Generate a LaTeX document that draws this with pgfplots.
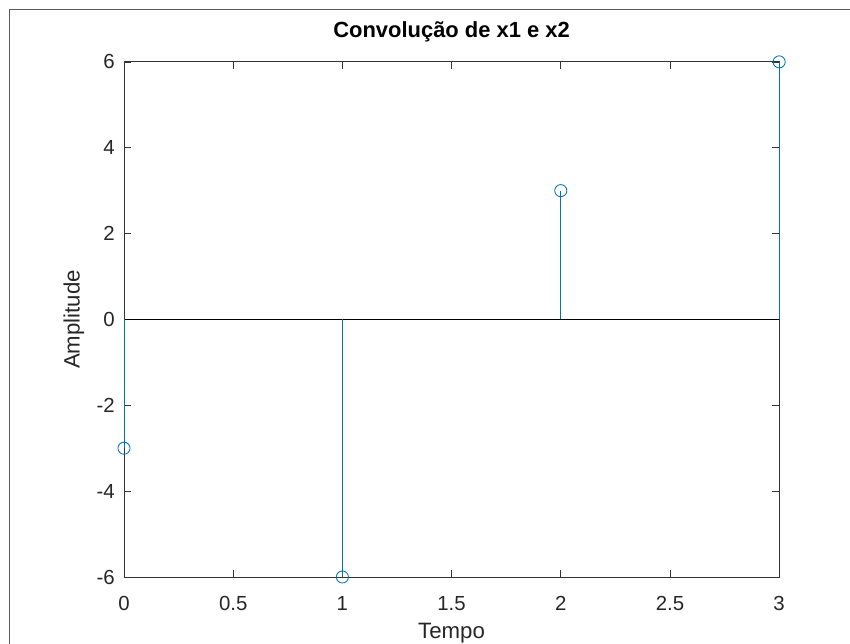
\documentclass[border=0pt]{standalone}
\usepackage{fontspec}
\setmainfont{Liberation Sans}
\usepackage{pgfplots}
\pgfplotsset{compat=1.18}

\definecolor{mlblue}{rgb}{0,0.447,0.741}

\begin{document}
\begin{tikzpicture}[x=0.025cm,y=0.025cm]
% page box: 850 x 644 px, axis box at px (124..779, 62..577)
\useasboundingbox (-124,-67) rectangle (726,577);
\draw[gray!70!black, line width=0.7pt] (-115,-67) -- (-115,567) -- (726,567);
\begin{axis}[
    at={(0,0)}, anchor=south west,
    scale only axis,
    width=16.375cm, height=12.875cm,
    xmin=0, xmax=3,
    ymin=-6, ymax=6,
    xtick={0,0.5,1,1.5,2,2.5,3},
    ytick={-6,-4,-2,0,2,4,6},
    xticklabels={0,0.5,1,1.5,2,2.5,3},
    tick align=inside,
    major tick length=5pt,
    tick style={black!80, line width=0.5pt},
    axis line style={black!80, line width=0.6pt},
    /pgf/number format/assume math mode=true,
    ticklabel style={font=\fontsize{14.5}{17}\selectfont, text=black!85},
    xticklabel style={yshift=-10pt},
    yticklabel style={xshift=-3pt},
    xlabel={Tempo},
    ylabel={Amplitude},
    label style={font=\fontsize{15.8}{19}\selectfont, text=black!85},
    xlabel style={yshift=-2.5pt},
    ylabel style={yshift=2pt},
    title={Convolução de x1 e x2},
    title style={font=\fontsize{15.6}{19}\selectfont\bfseries, yshift=4.5pt},
    clip=false,
]
% baseline
\addplot[black, line width=0.6pt, forget plot] coordinates {(0,0) (3,0)};
% stems
\addplot[ycomb, mlblue, line width=0.6pt, mark=o, mark size=4.3pt,
    mark options={solid, fill=none, draw=mlblue}] coordinates {
    (0,-3) (1,-6) (2,3) (3,6)
};
\end{axis}
\end{tikzpicture}
\end{document}
